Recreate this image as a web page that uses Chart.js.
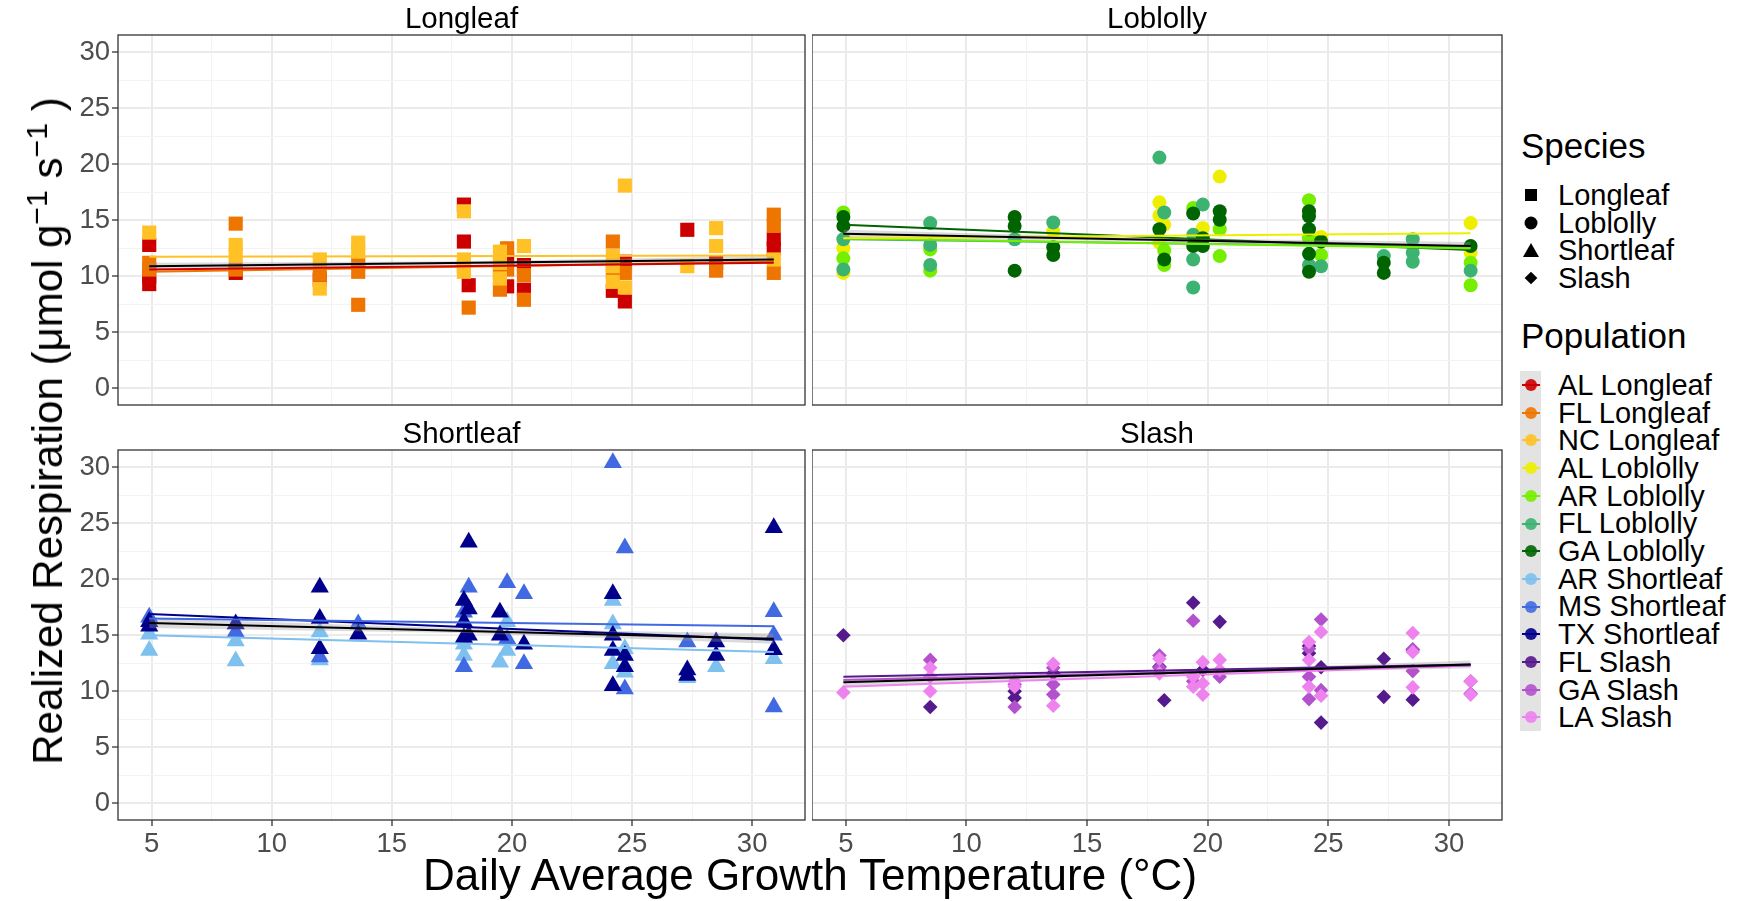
<!DOCTYPE html>
<html>
<head>
<meta charset="utf-8">
<title>Realized respiration vs daily average growth temperature</title>
<script src="https://cdn.jsdelivr.net/npm/chart.js@4.4.0/dist/chart.umd.min.js"></script>
<style>
  html, body { margin: 0; padding: 0; background: #fff; }
  #page { position: relative; width: 1745px; height: 901px; overflow: hidden;
          font-family: "Liberation Sans", Arial, sans-serif; color: #000; }
  #page canvas { position: absolute; }
  .txt { position: absolute; white-space: nowrap; line-height: 1; }
  .ytitle { position: absolute; left: 48px; top: 431px; white-space: nowrap; line-height: 1;
            font-size: 42px; transform: translate(-50%, -50%) rotate(-90deg); }
  .ytitle .sup { position: relative; top: -0.5em; font-size: 0.72em; }
  .key { position: absolute; }
  .keybg { position: absolute; background: #E3E3E3; }
</style>
</head>
<body>
<div id="page"></div>
<script>
// ── data ────────────────────────────────────────────────
const X_TICKS = [5, 10, 15, 20, 25, 30];
const Y_TICKS = [0, 5, 10, 15, 20, 25, 30];
const FIT_X   = [4.9, 30.9];          // temperature span of the fitted lines
const BAND_X  = [4.9, 18, 30.9];

const SPECIES     = ['Longleaf', 'Loblolly', 'Shortleaf', 'Slash'];
const POPULATIONS = ['AL Longleaf', 'FL Longleaf', 'NC Longleaf',
                     'AL Loblolly', 'AR Loblolly', 'FL Loblolly', 'GA Loblolly',
                     'AR Shortleaf', 'MS Shortleaf', 'TX Shortleaf',
                     'FL Slash', 'GA Slash', 'LA Slash'];

// [temperature, respiration]
const alLongleaf = [[4.9,12.8],[4.9,10.0],[4.9,9.3],[8.5,10.3],[12,9.7],[18,16.4],[18,13.1],[18.2,9.2],[19.8,11.5],[19.8,9.1],[20.5,8.8],[20.5,11.0],[24.2,8.7],[24.7,11.3],[24.7,7.75],[27.3,14.15],[28.5,11.2],[30.9,13.3],[30.9,12.5]];
const flLongleaf = [[4.9,11.2],[4.9,10.6],[8.5,14.7],[8.5,10.6],[12,10.2],[13.6,11.2],[13.6,10.4],[13.6,7.45],[18,10.9],[18.2,7.2],[19.5,8.8],[19.5,10.3],[19.8,12.5],[19.8,10.6],[20.5,10.1],[20.5,7.9],[24.2,13.1],[24.2,10.4],[24.7,10.3],[28.5,10.5],[30.9,15.5],[30.9,14.5],[30.9,10.3]];
const ncLongleaf = [[4.9,13.9],[8.5,12.8],[8.5,11.9],[12,11.5],[12,8.9],[13.6,13.0],[13.6,12.2],[18,15.8],[18,11.5],[18,10.4],[19.5,12.2],[19.5,11.2],[19.5,9.8],[20.5,12.7],[24.2,11.8],[24.2,10.9],[24.2,9.5],[24.7,18.1],[24.7,9.0],[27.3,10.9],[28.5,14.3],[28.5,12.7],[30.9,11.5]];

const alLoblolly = [[4.9,12.5],[4.9,10.3],[13.6,14.0],[18,16.6],[18,15.4],[18,13.0],[18.2,14.6],[19.8,14.3],[20.5,18.9],[24.7,13.5],[30.9,14.75],[30.9,12.1]];
const arLoblolly = [[4.9,15.7],[4.9,11.6],[8.5,12.4],[8.5,10.5],[18.2,12.3],[18.2,11.0],[19.4,16.1],[20.5,14.2],[20.5,11.8],[24.2,16.8],[24.2,13.4],[24.7,11.9],[30.9,11.2],[30.9,9.2]];
const flLoblolly = [[4.9,13.3],[4.9,10.6],[8.5,14.75],[8.5,12.8],[8.5,11.0],[12,13.3],[13.6,14.8],[18,20.6],[18.2,15.7],[19.4,13.7],[19.4,11.5],[19.4,9.0],[19.8,16.4],[24.2,11.0],[24.7,10.9],[27.3,11.8],[28.5,13.3],[28.5,12.1],[28.5,11.3],[30.9,10.5]];
const gaLoblolly = [[4.9,15.3],[4.9,14.5],[12,15.3],[12,14.5],[12,10.5],[13.6,12.6],[13.6,11.9],[18,14.2],[18.2,11.5],[19.4,15.6],[19.4,12.7],[19.8,13.4],[19.8,12.7],[20.5,15.8],[20.5,15.05],[24.2,15.8],[24.2,15.35],[24.2,14.2],[24.2,12.0],[24.2,10.4],[24.7,13.1],[27.3,11.2],[27.3,10.3],[30.9,12.7]];

const arShortleaf = [[4.9,15.1],[4.9,13.65],[8.5,14.5],[8.5,12.7],[12,15.3],[12,12.8],[18,14.2],[18,13.2],[19.5,12.6],[19.8,16.2],[19.8,13.65],[24.2,18.1],[24.2,16.0],[24.2,12.45],[24.7,13.8],[24.7,11.7],[27.3,11.2],[28.5,12.2],[30.9,12.9]];
const msShortleaf = [[4.9,16.6],[8.5,15.3],[12,13.05],[13.6,16.0],[18,17.05],[18,12.2],[18.2,19.3],[19.8,19.7],[19.8,14.7],[20.5,18.7],[20.5,12.45],[24.2,30.4],[24.7,22.8],[24.7,10.2],[27.3,14.4],[30.9,17.1],[30.9,15.0],[30.9,8.6]];
const txShortleaf = [[4.9,16.2],[4.9,15.8],[8.5,16.0],[12,19.3],[12,16.5],[12,13.8],[13.6,15.1],[18,18.1],[18,16.2],[18,14.8],[18.2,23.3],[18.2,17.35],[18.2,15.0],[19.5,17.05],[19.5,15.0],[20.5,14.2],[24.2,18.7],[24.2,15.0],[24.2,13.65],[24.2,10.5],[24.7,13.2],[24.7,12.2],[27.3,11.9],[27.3,11.4],[28.5,14.4],[28.5,13.2],[30.9,24.6],[30.9,13.7]];

const flSlash = [[4.9,15.0],[8.5,8.6],[12,10.0],[12,9.4],[13.6,11.6],[18,12.2],[18.2,9.2],[19.4,17.9],[19.8,11.9],[20.5,16.2],[24.2,14.05],[24.2,13.4],[24.7,12.15],[24.7,7.2],[27.3,12.9],[27.3,9.5],[28.5,13.7],[28.5,9.25]];
const gaSlash = [[8.5,12.8],[12,8.6],[12,10.6],[13.6,12.1],[13.6,10.6],[13.6,9.7],[18,13.2],[18,12.1],[19.4,16.3],[19.4,10.9],[20.5,11.3],[24.2,13.8],[24.2,11.3],[24.2,9.3],[24.7,16.4],[24.7,10.1],[28.5,13.75],[28.5,11.8],[30.9,10.9],[30.9,9.8]];
const laSlash = [[4.9,9.9],[8.5,12.1],[8.5,11.3],[8.5,10.0],[12,10.9],[12,10.4],[13.6,12.45],[13.6,8.7],[18,12.9],[18,11.6],[19.4,11.3],[19.4,10.4],[19.8,12.6],[19.8,10.7],[19.8,9.7],[20.5,12.8],[20.5,11.9],[24.2,14.4],[24.2,12.8],[24.2,10.4],[24.7,15.3],[24.7,9.6],[28.5,15.2],[28.5,13.5],[28.5,10.35],[30.9,10.9],[30.9,9.7]];

// fitted lines: value at FIT_X[0] and FIT_X[1]
const fitAlLongleaf  = [10.6, 11.2];
const fitFlLongleaf  = [10.4, 11.3];
const fitNcLongleaf  = [11.75, 11.85];
const fitAlLoblolly  = [13.4, 13.85];
const fitArLoblolly  = [13.4, 12.5];
const fitFlLoblolly  = [13.3, 12.6];
const fitGaLoblolly  = [14.6, 12.35];
const fitArShortleaf = [15.0, 13.5];
const fitMsShortleaf = [16.5, 15.8];
const fitTxShortleaf = [16.9, 14.6];
const fitFlSlash     = [11.3, 12.4];
const fitGaSlash     = [11.0, 12.3];
const fitLaSlash     = [10.4, 12.3];

// species-level fit (black) and its confidence band at BAND_X
const fitLongleaf    = [10.9, 11.5];
const fitLoblolly    = [13.8, 12.7];
const fitShortleaf   = [16.1, 14.7];
const fitSlash       = [10.8, 12.4];
const bandLoLongleaf  = [10.6, 11.05, 11.2];
const bandHiLongleaf  = [11.2, 11.35, 11.8];
const bandLoLoblolly  = [13.45, 13.1, 12.35];
const bandHiLoblolly  = [14.15, 13.4, 13.05];
const bandLoShortleaf = [15.65, 15.2, 14.25];
const bandHiShortleaf = [16.55, 15.6, 15.15];
const bandLoSlash     = [10.45, 11.45, 12.05];
const bandHiSlash     = [11.15, 11.75, 12.75];

// ── styling / layout ────────────────────────────────────
const COLORS = {
    'AL Longleaf': '#CD0000', 'FL Longleaf': '#EE7600', 'NC Longleaf': '#FFC125',
    'AL Loblolly': '#EEEE00', 'AR Loblolly': '#76EE00', 'FL Loblolly': '#3CB371', 'GA Loblolly': '#006400',
    'AR Shortleaf': '#7EC0EE', 'MS Shortleaf': '#4169E1', 'TX Shortleaf': '#00008B',
    'FL Slash': '#551A8B', 'GA Slash': '#B452CD', 'LA Slash': '#EE82EE'
};
const SHAPES = { Longleaf: ['rect', 10], Loblolly: ['circle', 7], Shortleaf: ['triangle', 10.5], Slash: ['rectRot', 7.3] };

const POINTS = {
    'AL Longleaf': alLongleaf, 'FL Longleaf': flLongleaf, 'NC Longleaf': ncLongleaf,
    'AL Loblolly': alLoblolly, 'AR Loblolly': arLoblolly, 'FL Loblolly': flLoblolly, 'GA Loblolly': gaLoblolly,
    'AR Shortleaf': arShortleaf, 'MS Shortleaf': msShortleaf, 'TX Shortleaf': txShortleaf,
    'FL Slash': flSlash, 'GA Slash': gaSlash, 'LA Slash': laSlash
};
const FITS = {
    'AL Longleaf': fitAlLongleaf, 'FL Longleaf': fitFlLongleaf, 'NC Longleaf': fitNcLongleaf,
    'AL Loblolly': fitAlLoblolly, 'AR Loblolly': fitArLoblolly, 'FL Loblolly': fitFlLoblolly, 'GA Loblolly': fitGaLoblolly,
    'AR Shortleaf': fitArShortleaf, 'MS Shortleaf': fitMsShortleaf, 'TX Shortleaf': fitTxShortleaf,
    'FL Slash': fitFlSlash, 'GA Slash': fitGaSlash, 'LA Slash': fitLaSlash
};
const PANELS = [
    { species: 'Longleaf',  col: 0, row: 0, fit: fitLongleaf,  band: [bandLoLongleaf,  bandHiLongleaf]  },
    { species: 'Loblolly',  col: 1, row: 0, fit: fitLoblolly,  band: [bandLoLoblolly,  bandHiLoblolly]  },
    { species: 'Shortleaf', col: 0, row: 1, fit: fitShortleaf, band: [bandLoShortleaf, bandHiShortleaf] },
    { species: 'Slash',     col: 1, row: 1, fit: fitSlash,     band: [bandLoSlash,     bandHiSlash]     }
];

const COLS = [[118, 805], [812, 1502]];
const ROWS = [[35, 405], [450, 820]];
const X_MIN = 3.6, X_MAX = 32.2, Y_MIN = -1.5, Y_MAX = 31.55;
const Y_AXIS_W = 60, X_AXIS_H = 48, PAD = 2;
const FONT = '"Liberation Sans", Arial, sans-serif';

Chart.defaults.font.family = FONT;

const page = document.getElementById('page');

// minor grid lines sit half way between the majors
const withMinors = majors => {
    const out = [];
    majors.forEach((v, i) => {
        out.push(v);
        if (i < majors.length - 1) out.push((v + majors[i + 1]) / 2);
    });
    return out;
};
const X_GRID = withMinors(X_TICKS);
const Y_GRID = withMinors(Y_TICKS);

const toXY   = pairs => pairs.map(([x, y]) => ({ x, y }));
const fitXY  = ends  => FIT_X.map((x, i) => ({ x, y: ends[i] }));
const bandXY = vals  => BAND_X.map((x, i) => ({ x, y: vals[i] }));

// panel frame on top of everything
const panelBorder = {
    id: 'panelBorder',
    afterDraw(chart) {
        const { ctx, chartArea: a } = chart;
        ctx.save();
        ctx.strokeStyle = '#333333';
        ctx.lineWidth = 1.3;
        ctx.strokeRect(a.left, a.top, a.right - a.left, a.bottom - a.top);
        ctx.restore();
    }
};

function axis(showLabels, majors, grid, min, max, fitSize) {
    const isMajor = v => majors.includes(v);
    return {
        type: 'linear', min, max,
        afterBuildTicks: ax => { ax.ticks = grid.map(v => ({ value: v })); },
        afterFit: ax => {
            fitSize(ax);
            // labels never overflow the panel, so no extra layout padding
            ax.paddingTop = ax.paddingBottom = ax.paddingLeft = ax.paddingRight = 0;
        },
        border: { display: false },
        grid: {
            color    : c => isMajor(c.tick.value) ? '#EBEBEB' : '#F3F3F3',
            lineWidth: c => isMajor(c.tick.value) ? 2 : 1,
            drawTicks: showLabels,
            tickLength: 6,
            tickWidth: 1.3,
            tickColor: c => isMajor(c.tick.value) ? '#333333' : 'rgba(0,0,0,0)'
        },
        ticks: {
            display: showLabels, autoSkip: false, maxRotation: 0, padding: 2,
            color: '#4D4D4D', font: { size: 27.5 },
            callback: v => isMajor(v) ? String(v) : ''
        }
    };
}

function makePanel(p) {
    const [x0, x1] = COLS[p.col];
    const [y0, y1] = ROWS[p.row];
    const showY = p.col === 0, showX = p.row === 1;
    const yW = showY ? Y_AXIS_W : 0;
    const xH = showX ? X_AXIS_H : 0;

    const cv = document.createElement('canvas');
    cv.width  = yW + (x1 - x0) + PAD;
    cv.height = PAD + (y1 - y0) + xH + PAD;
    cv.style.left = (x0 - yW) + 'px';
    cv.style.top  = (y0 - PAD) + 'px';
    page.appendChild(cv);

    const [style, radius] = SHAPES[p.species];
    const pops = POPULATIONS.filter(n => n.endsWith(p.species));

    const datasets = [];
    pops.forEach((name, k) => {
        datasets.push({
            label: name, data: toXY(POINTS[name]),
            pointStyle: style, pointRadius: radius, pointBorderWidth: 0,
            pointBackgroundColor: COLORS[name], showLine: false,
            order: 20 + (pops.length - k)
        });
    });
    datasets.push({
        label: 'band lo', data: bandXY(p.band[0]), showLine: true,
        borderWidth: 0, pointRadius: 0, fill: false, order: 6
    });
    datasets.push({
        label: 'band hi', data: bandXY(p.band[1]), showLine: true,
        borderWidth: 0, pointRadius: 0, fill: '-1',
        backgroundColor: 'rgba(153,153,153,0.35)', order: 5
    });
    pops.forEach((name, k) => {
        datasets.push({
            label: name + ' fit', data: fitXY(FITS[name]), showLine: true,
            borderColor: COLORS[name], borderWidth: 2, pointRadius: 0, order: 2 + k
        });
    });
    datasets.push({
        label: p.species + ' fit', data: fitXY(p.fit), showLine: true,
        borderColor: '#000000', borderWidth: 2, pointRadius: 0, order: 0
    });

    new Chart(cv, {
        type: 'scatter',
        data: { datasets },
        options: {
            responsive: false,
            animation: false,
            devicePixelRatio: 1,
            layout: { autoPadding: false, padding: { top: PAD, right: PAD, bottom: PAD, left: 0 } },
            plugins: { legend: { display: false }, tooltip: { enabled: false } },
            scales: {
                x: axis(showX, X_TICKS, X_GRID, X_MIN, X_MAX, ax => { ax.height = xH; }),
                y: axis(showY, Y_TICKS, Y_GRID, Y_MIN, Y_MAX, ax => { ax.width = yW; })
            }
        },
        plugins: [panelBorder]
    });

    // strip label
    addText(p.species, (x0 + x1) / 2, y0 - 7.5, 29.5, 'center');
}

// text placed by its baseline
function addText(str, x, baseline, size, align) {
    const el = document.createElement('div');
    el.className = 'txt';
    el.style.fontSize = size + 'px';
    el.style.top  = (baseline - 0.8465 * size) + 'px';
    el.style.left = x + 'px';
    if (align === 'center') el.style.transform = 'translateX(-50%)';
    el.textContent = str;
    page.appendChild(el);
    return el;
}

PANELS.forEach(makePanel);

// axis titles
addText('Daily Average Growth Temperature (°C)', (COLS[0][0] + COLS[1][1]) / 2, 890, 44, 'center');
const yt = document.createElement('div');
yt.className = 'ytitle';
yt.innerHTML = 'Realized Respiration (μmol g<span class="sup">−1</span> s<span class="sup">−1</span> )';
page.appendChild(yt);

// ── legend ──────────────────────────────────────────────
const LEG_X = 1521, KEY_X = 1530.5, LABEL_X = 1558, ROW_H = 27.7;

addText('Species', LEG_X, 158, 35);
const SPECIES_KEY = {
    Longleaf : 'width:12px;height:12px;background:#000;',
    Loblolly : 'width:13px;height:13px;border-radius:50%;background:#000;',
    Shortleaf: 'width:0;height:0;border-left:8px solid transparent;border-right:8px solid transparent;border-bottom:14px solid #000;',
    Slash    : 'width:9px;height:9px;background:#000;'
};
SPECIES.forEach((s, i) => {
    const cy = 195 + i * ROW_H;
    const k = document.createElement('div');
    k.className = 'key';
    k.style.cssText = SPECIES_KEY[s] + `left:${KEY_X}px;top:${cy}px;transform:translate(-50%,-50%)` +
                      (s === 'Slash' ? ' rotate(45deg)' : '') + ';';
    page.appendChild(k);
    addText(s, LABEL_X, cy + 10.4, 29);
});

addText('Population', LEG_X, 348, 35);
const bg = document.createElement('div');
bg.className = 'keybg';
bg.style.cssText = `left:1520px;top:371px;width:21px;height:${POPULATIONS.length * ROW_H}px;`;
page.appendChild(bg);
POPULATIONS.forEach((n, i) => {
    const cy = 385 + i * ROW_H;
    const dot = document.createElement('div');
    dot.className = 'key';
    dot.style.cssText = `left:${KEY_X}px;top:${cy}px;width:12px;height:12px;border-radius:50%;` +
                        `background:${COLORS[n]};opacity:0.9;transform:translate(-50%,-50%);`;
    page.appendChild(dot);
    const ln = document.createElement('div');
    ln.className = 'key';
    ln.style.cssText = `left:${KEY_X - 9}px;top:${cy - 1}px;width:18px;height:2px;background:${COLORS[n]};`;
    page.appendChild(ln);
    addText(n, LABEL_X, cy + 10.4, 29);
});
</script>
</body>
</html>
